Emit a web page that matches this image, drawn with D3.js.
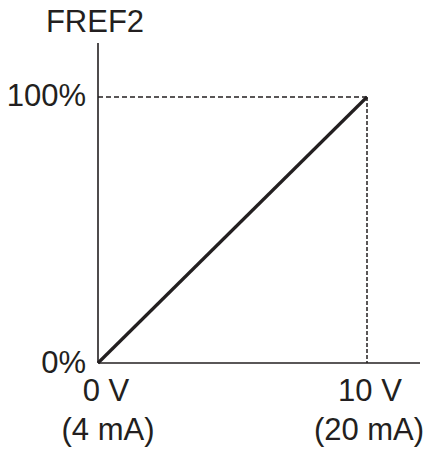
<!DOCTYPE html>
<html><head><meta charset="utf-8">
<script src="https://cdn.jsdelivr.net/npm/d3@7"></script>
<style>body{margin:0;background:#fff}svg{display:block}text{font-family:"Liberation Sans",Arial,sans-serif;fill:#231f20}</style>
</head><body>
<script>
const xValues = [0, 10];          // volts
const yValues = [0, 100];         // percent
const xTickLabels = ["0 V", "10 V"];
const xTickSub = ["(4 mA)", "(20 mA)"];
const yTickLabels = ["0%", "100%"];
const yTitle = "FREF2";

const W = 426, H = 449;
const svg = d3.select("body").append("svg").attr("width", W).attr("height", H);
const x = d3.scaleLinear().domain([0, 10]).range([98, 367]);
const y = d3.scaleLinear().domain([0, 100]).range([363, 97]);
const ink = "#231f20";

// axes
svg.append("line").attr("x1", x(0)).attr("x2", 420).attr("y1", y(0)).attr("y2", y(0))
  .attr("stroke", ink).attr("stroke-width", 1.6);
svg.append("line").attr("x1", x(0)).attr("x2", x(0)).attr("y1", 43).attr("y2", y(0))
  .attr("stroke", ink).attr("stroke-width", 1.6);

// dashed guides
svg.append("line").attr("x1", x(0)).attr("x2", x(10)).attr("y1", y(100)).attr("y2", y(100))
  .attr("stroke", ink).attr("stroke-width", 1.5).attr("stroke-dasharray", "5,3");
svg.append("line").attr("x1", x(10)).attr("x2", x(10)).attr("y1", y(100)).attr("y2", y(0))
  .attr("stroke", ink).attr("stroke-width", 1.5).attr("stroke-dasharray", "4,2");

// main line
const line = d3.line().x((d, i) => x(xValues[i])).y((d, i) => y(yValues[i]));
svg.append("path").datum(xValues).attr("d", line)
  .attr("fill", "none").attr("stroke", ink).attr("stroke-width", 3.2);

// labels
const fs = 31;
svg.append("text").attr("x", 95).attr("y", 32).attr("text-anchor", "middle")
  .attr("font-size", fs).text(yTitle);
svg.selectAll(".yl").data(yValues).enter().append("text")
  .attr("x", 86).attr("y", d => y(d) + (d === 0 ? 10 : 9)).attr("text-anchor", "end")
  .attr("font-size", fs).text((d, i) => yTickLabels[i]);
svg.selectAll(".xl").data(xValues).enter().append("text")
  .attr("x", d => x(d) + (d === 0 ? 8 : 3)).attr("y", 401).attr("text-anchor", "middle")
  .attr("font-size", fs).text((d, i) => xTickLabels[i]);
svg.selectAll(".xs").data(xValues).enter().append("text")
  .attr("x", d => x(d) + (d === 0 ? 10 : 2)).attr("y", 440).attr("text-anchor", "middle")
  .attr("font-size", fs).text((d, i) => xTickSub[i]);
</script>
</body></html>
